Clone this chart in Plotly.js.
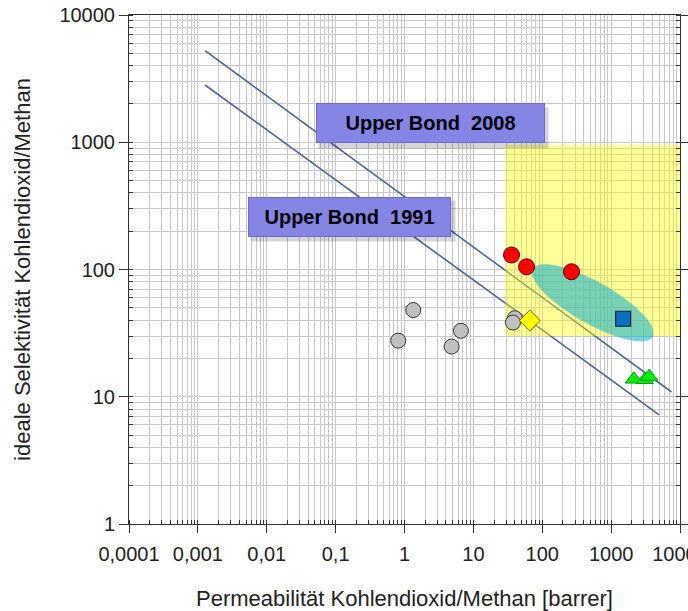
<!DOCTYPE html>
<html><head><meta charset="utf-8">
<script src="https://cdn.plot.ly/plotly-3.0.1.min.js"></script>
<style>html,body{margin:0;padding:0;background:#fff}</style>
</head><body><div id="chart" style="width:688px;height:611px"></div>
<script>
// Axis ticks
const xTickVals = [0.0001, 0.001, 0.01, 0.1, 1, 10, 100, 1000, 10000];
const xTickText = ['0,0001', '0,001', '0,01', '0,1', '1', '10', '100', '1000', '10000'];
const yTickVals = [1, 10, 100, 1000, 10000];
const yTickText = ['1', '10', '100', '1000', '10000'];

// Upper bound lines (Robeson 1991 / 2008)
const bound1991X = [0.00127, 4977];
const bound1991Y = [2818, 7.2];
const bound2008X = [0.00127, 7530];
const bound2008Y = [5240, 10.9];

// Membrane data points
const grayX = [1.34, 0.81, 6.6, 4.83, 40, 37.5];
const grayY = [48, 27.6, 33, 24.8, 41.4, 38.3];
const diamondX = [66];
const diamondY = [39.7];
const redX = [35.8, 59.2, 266];
const redY = [130, 105, 96];
const squareX = [1493];
const squareY = [41];
const triX = [2133, 3083, 3565];
const triY = [13.7, 13.6, 14.4];

// Target region and ellipse
const targetX = [29, 10000];
const targetY = [30, 950];
const ellipseCenter = [542, 54.7];

const labels = ['Upper Bond\u00a0 2008', 'Upper Bond\u00a0 1991'];

// ellipse path in pixel offsets (y up)
function ellipsePath(a, b, deg) {
  const t = deg * Math.PI / 180, k = 0.5523;
  const A = [a * Math.cos(t), -a * Math.sin(t)];
  const B = [b * Math.sin(t), b * Math.cos(t)];
  const p = (u, v, s1, s2) => [u[0] * s1 + v[0] * s2, u[1] * s1 + v[1] * s2];
  const f = q => q[0].toFixed(2) + ',' + q[1].toFixed(2);
  const segs = [
    ['M', p(A, B, 1, 0)],
    ['C', p(A, B, 1, k), p(A, B, k, 1), p(A, B, 0, 1)],
    ['C', p(A, B, -k, 1), p(A, B, -1, k), p(A, B, -1, 0)],
    ['C', p(A, B, -1, -k), p(A, B, -k, -1), p(A, B, 0, -1)],
    ['C', p(A, B, k, -1), p(A, B, 1, -k), p(A, B, 1, 0)]
  ];
  return segs.map(s => s[0] + s.slice(1).map(f).join(' ')).join(' ') + ' Z';
}

const traces = [
  {x: grayX, y: grayY, type: 'scatter', mode: 'markers',
   marker: {symbol: 'circle', size: 15, color: '#c0c0c0', line: {color: '#333', width: 1}}},
  {x: diamondX, y: diamondY, type: 'scatter', mode: 'markers',
   marker: {symbol: 'diamond', size: 16, color: '#ffff00', line: {color: '#6b6b00', width: 1}}},
  {x: redX, y: redY, type: 'scatter', mode: 'markers',
   marker: {symbol: 'circle', size: 16, color: '#ff0000', line: {color: '#5a0000', width: 1}}},
  {x: squareX, y: squareY, type: 'scatter', mode: 'markers',
   marker: {symbol: 'square', size: 15, color: '#0a6fc0', line: {color: '#102030', width: 1.2}}},
  {x: triX, y: triY, type: 'scatter', mode: 'markers',
   marker: {symbol: 'triangle-up', size: 15, color: '#00ee00', line: {color: '#119911', width: 1}}}
];

const lineColor = '#4a6796';
const shapes = [
  {type: 'line', xref: 'x', yref: 'y', x0: bound1991X[0], y0: bound1991Y[0], x1: bound1991X[1], y1: bound1991Y[1],
   line: {color: lineColor, width: 1.6}, layer: 'between'},
  {type: 'line', xref: 'x', yref: 'y', x0: bound2008X[0], y0: bound2008Y[0], x1: bound2008X[1], y1: bound2008Y[1],
   line: {color: lineColor, width: 1.6}, layer: 'between'},
  {type: 'rect', xref: 'x', yref: 'y', x0: targetX[0], x1: targetX[1], y0: targetY[0], y1: targetY[1],
   fillcolor: '#ffff00', opacity: 0.4, line: {width: 0}, layer: 'between'},
  {type: 'path', xref: 'x', yref: 'y', xsizemode: 'pixel', ysizemode: 'pixel',
   xanchor: ellipseCenter[0], yanchor: ellipseCenter[1], path: ellipsePath(69, 21, 29.5),
   fillcolor: 'rgb(20,176,202)', opacity: 0.57, line: {width: 0}, layer: 'between'}
];

// label boxes (paper coords from plot area 551x509)
const boxes = [
  {x: 0.5472, y: 0.8271, w: 227, h: 38, text: labels[0]},
  {x: 0.2151, y: 0.6031, w: 201, h: 38, text: labels[1]}
];
const annotations = [];
boxes.forEach(b => {
  annotations.push({xref: 'paper', yref: 'paper', x: b.x, y: b.y, xshift: 3, yshift: -4, showarrow: false,
    text: ' ', width: b.w, height: b.h, bgcolor: 'rgba(0,0,0,0.16)', borderwidth: 1, bordercolor: 'rgba(0,0,0,0)'});
  annotations.push({xref: 'paper', yref: 'paper', x: b.x, y: b.y, showarrow: false,
    text: '<b>' + b.text + '</b>', width: b.w, height: b.h, bgcolor: '#8585e6',
    bordercolor: '#6a6ad0', borderwidth: 1, borderpad: 0,
    font: {family: 'Liberation Sans, Arial, sans-serif', size: 20, color: '#000'}});
});

const axisCommon = {
  type: 'log', showline: true, linecolor: '#333', linewidth: 1,
  ticks: 'outside', tickcolor: '#333', tickwidth: 1,
  showgrid: true, gridcolor: '#c8c8c8', gridwidth: 1, zeroline: false,
  tickmode: 'array', tickfont: {size: 20, color: '#222'}, ticklabeloverflow: 'allow',
  minor: {dtick: 'D1', ticks: 'inside', ticklen: 4, tickcolor: '#333', showgrid: true, gridcolor: '#c8c8c8', gridwidth: 1}
};

const layout = {
  width: 688, height: 611,
  margin: {l: 129, r: 8, t: 15, b: 87},
  paper_bgcolor: '#fff', plot_bgcolor: '#fff',
  font: {family: 'Liberation Sans, Arial, sans-serif', color: '#222'},
  showlegend: false, hovermode: false,
  xaxis: Object.assign({}, axisCommon, {
    range: [-4, 4], tickvals: xTickVals, ticktext: xTickText, ticklen: 8, mirror: true, ticklabelstandoff: 4,
    title: {text: 'Permeabilität Kohlendioxid/Methan [barrer]', font: {size: 22, color: '#222'}, standoff: 26}
  }),
  yaxis: Object.assign({}, axisCommon, {
    range: [0, 4], tickvals: yTickVals, ticktext: yTickText, ticklen: 9, mirror: 'ticks',
    title: {text: 'ideale Selektivität Kohlendioxid/Methan', font: {size: 22, color: '#222'}, standoff: 22}
  }),
  shapes: shapes,
  annotations: annotations
};

Plotly.newPlot('chart', traces, layout, {staticPlot: true, displayModeBar: false});
</script>
</body></html>
